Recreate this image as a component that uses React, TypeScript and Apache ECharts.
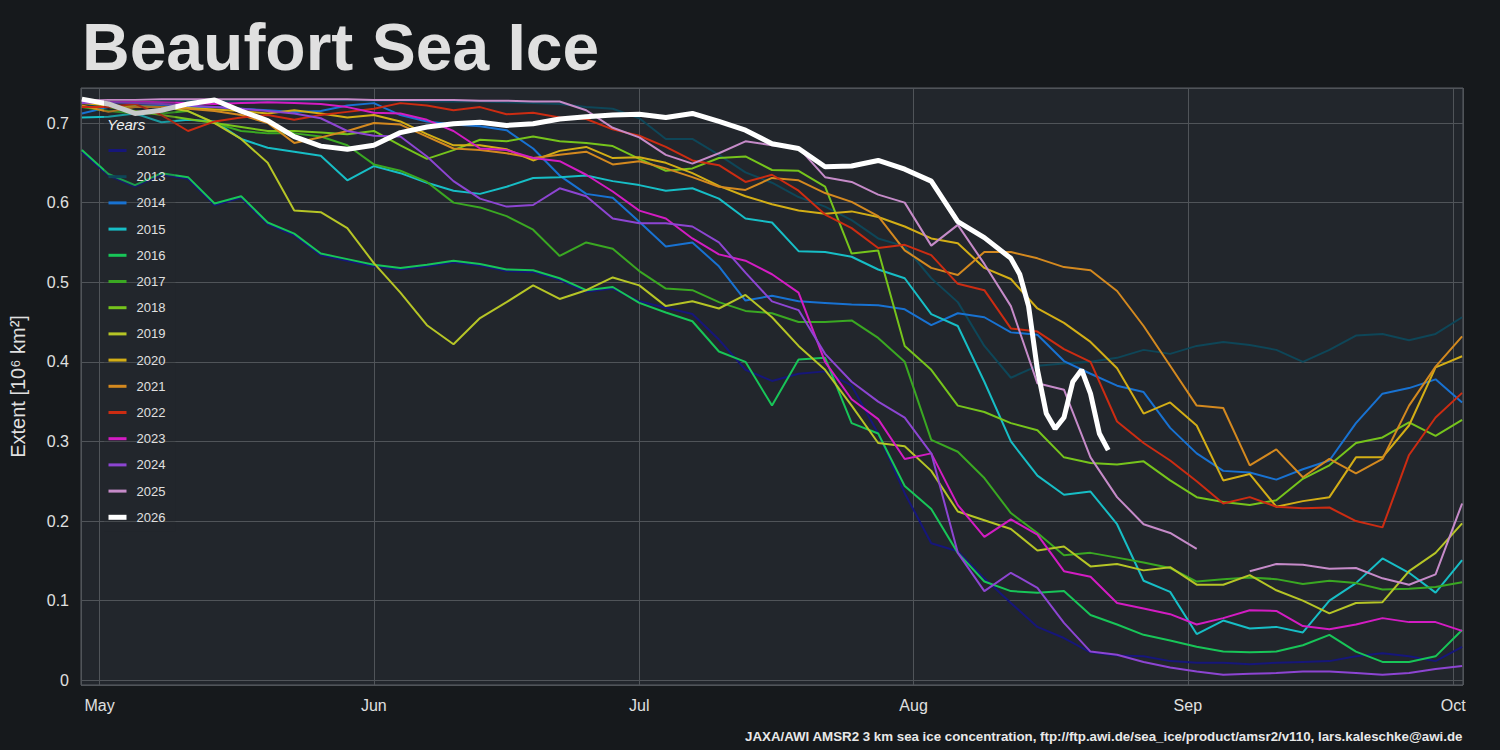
import React, { useEffect, useRef } from "react";
import * as echarts from "echarts";

const MONTHS = ["Jan", "Feb", "Mar", "Apr", "May", "Jun", "Jul", "Aug", "Sep", "Oct", "Nov", "Dec"];

// sample days, counted from 1 May
const DAYS = [
  -2, 1, 4, 7, 10, 13, 16, 19, 22, 25, 28, 31, 34, 37, 40, 43, 46, 49, 52, 55, 58, 61, 64, 67, 70, 73, 76,
  79, 82, 85, 88, 91, 94, 97, 100, 103, 106, 109, 112, 115, 118, 121, 124, 127, 130, 133, 136, 139, 142,
  145, 148, 151, 154
];
// 2026 is read more finely near its end
const DAYS_2026 = [
  -2, 1, 4, 7, 10, 13, 16, 19, 22, 25, 28, 31, 34, 37, 40, 43, 46, 49, 52, 55, 58, 61, 64, 67, 70, 73, 76,
  79, 82, 85, 88, 91, 94, 97, 100, 103, 104, 105, 106, 107, 108, 109, 110, 111, 112, 113, 114
];

const YEARS = ["2012", "2013", "2014", "2015", "2016", "2017", "2018", "2019", "2020", "2021", "2022", "2023", "2024", "2025", "2026"];

const COLORS = [
  "#16167a", "#0e4658", "#1872d2", "#17bec6", "#18c558", "#3aa822", "#76c41c", "#b6c526",
  "#d3ae16", "#d4891f", "#cc2c12", "#d31cc3", "#8d45d2", "#c68bc9", "#ffffff"
];

const Y2012 = [0.664, 0.634, 0.62, 0.635, 0.63, 0.597, 0.606, 0.573, 0.559, 0.534, 0.527, 0.52, 0.516, 0.52, 0.525, 0.521, 0.514, 0.513, 0.503, 0.488, 0.492, 0.476, 0.468, 0.46, 0.428, 0.39, 0.376, 0.385, 0.388, 0.37, 0.31, 0.235, 0.172, 0.162, 0.128, 0.097, 0.067, 0.053, 0.035, 0.031, 0.03, 0.024, 0.022, 0.022, 0.02, 0.022, 0.023, 0.024, 0.03, 0.034, 0.03, 0.024, 0.042];
const Y2013 = [0.72, 0.725, 0.725, 0.728, 0.728, 0.727, 0.727, 0.728, 0.728, 0.728, 0.729, 0.728, 0.728, 0.727, 0.727, 0.727, 0.726, 0.725, 0.724, 0.72, 0.718, 0.706, 0.68, 0.68, 0.66, 0.638, 0.625, 0.607, 0.595, 0.578, 0.555, 0.545, 0.505, 0.475, 0.42, 0.38, 0.395, 0.398, 0.4, 0.405, 0.415, 0.41, 0.42, 0.425, 0.421, 0.415, 0.4, 0.415, 0.433, 0.435, 0.427, 0.435, 0.456];
const Y2014 = [0.712, 0.72, 0.722, 0.722, 0.72, 0.72, 0.718, 0.716, 0.714, 0.715, 0.722, 0.725, 0.71, 0.702, 0.698, 0.696, 0.691, 0.668, 0.634, 0.611, 0.606, 0.576, 0.545, 0.55, 0.52, 0.477, 0.483, 0.476, 0.474, 0.472, 0.471, 0.466, 0.446, 0.461, 0.456, 0.437, 0.434, 0.401, 0.385, 0.37, 0.362, 0.317, 0.285, 0.263, 0.261, 0.252, 0.265, 0.276, 0.323, 0.36, 0.367, 0.378, 0.349];
const Y2015 = [0.707, 0.708, 0.712, 0.701, 0.704, 0.702, 0.68, 0.669, 0.664, 0.659, 0.628, 0.646, 0.637, 0.625, 0.615, 0.611, 0.62, 0.631, 0.632, 0.634, 0.627, 0.622, 0.615, 0.618, 0.605, 0.58, 0.575, 0.539, 0.538, 0.532, 0.516, 0.505, 0.46, 0.445, 0.375, 0.3, 0.257, 0.233, 0.237, 0.196, 0.125, 0.111, 0.058, 0.075, 0.065, 0.067, 0.06, 0.1, 0.122, 0.153, 0.135, 0.11, 0.151];
const Y2016 = [0.666, 0.636, 0.622, 0.637, 0.632, 0.599, 0.608, 0.575, 0.561, 0.536, 0.529, 0.522, 0.518, 0.522, 0.527, 0.523, 0.516, 0.515, 0.505, 0.49, 0.494, 0.474, 0.462, 0.451, 0.413, 0.4, 0.345, 0.403, 0.405, 0.323, 0.31, 0.244, 0.215, 0.16, 0.124, 0.112, 0.11, 0.112, 0.082, 0.07, 0.057, 0.05, 0.042, 0.036, 0.035, 0.036, 0.044, 0.057, 0.036, 0.023, 0.023, 0.03, 0.063];
const Y2017 = [0.72, 0.715, 0.712, 0.712, 0.715, 0.7, 0.69, 0.687, 0.687, 0.683, 0.672, 0.648, 0.64, 0.626, 0.6, 0.594, 0.583, 0.566, 0.533, 0.55, 0.542, 0.514, 0.492, 0.49, 0.475, 0.464, 0.461, 0.45, 0.45, 0.452, 0.43, 0.4, 0.302, 0.287, 0.254, 0.21, 0.185, 0.157, 0.16, 0.154, 0.148, 0.141, 0.124, 0.127, 0.129, 0.127, 0.121, 0.125, 0.122, 0.114, 0.115, 0.117, 0.123];
const Y2018 = [0.72, 0.72, 0.715, 0.71, 0.705, 0.7, 0.695, 0.69, 0.69, 0.688, 0.686, 0.69, 0.672, 0.655, 0.666, 0.679, 0.677, 0.683, 0.677, 0.675, 0.671, 0.655, 0.64, 0.643, 0.656, 0.658, 0.641, 0.64, 0.62, 0.536, 0.54, 0.42, 0.39, 0.345, 0.337, 0.323, 0.314, 0.28, 0.273, 0.271, 0.275, 0.251, 0.23, 0.224, 0.22, 0.226, 0.253, 0.27, 0.298, 0.305, 0.324, 0.307, 0.327];
const Y2019 = [0.72, 0.72, 0.72, 0.72, 0.715, 0.7, 0.68, 0.65, 0.59, 0.588, 0.568, 0.524, 0.487, 0.446, 0.422, 0.455, 0.475, 0.496, 0.479, 0.49, 0.506, 0.496, 0.47, 0.476, 0.467, 0.484, 0.456, 0.42, 0.39, 0.345, 0.298, 0.294, 0.263, 0.212, 0.201, 0.19, 0.163, 0.168, 0.143, 0.146, 0.138, 0.142, 0.12, 0.12, 0.132, 0.113, 0.1, 0.084, 0.097, 0.098, 0.137, 0.16, 0.197];
const Y2020 = [0.725, 0.722, 0.721, 0.72, 0.719, 0.717, 0.715, 0.712, 0.716, 0.712, 0.707, 0.71, 0.702, 0.686, 0.672, 0.672, 0.667, 0.653, 0.665, 0.67, 0.656, 0.657, 0.65, 0.637, 0.621, 0.608, 0.598, 0.59, 0.586, 0.589, 0.582, 0.57, 0.555, 0.549, 0.518, 0.504, 0.467, 0.449, 0.425, 0.392, 0.335, 0.349, 0.32, 0.251, 0.259, 0.218, 0.225, 0.23, 0.28, 0.28, 0.32, 0.393, 0.407];
const Y2021 = [0.722, 0.714, 0.72, 0.72, 0.718, 0.715, 0.71, 0.7, 0.675, 0.682, 0.69, 0.7, 0.698, 0.683, 0.668, 0.666, 0.662, 0.656, 0.66, 0.664, 0.648, 0.652, 0.643, 0.632, 0.62, 0.616, 0.631, 0.628, 0.612, 0.601, 0.583, 0.54, 0.518, 0.509, 0.538, 0.538, 0.53, 0.519, 0.515, 0.489, 0.445, 0.395, 0.345, 0.342, 0.27, 0.29, 0.255, 0.278, 0.26, 0.278, 0.345, 0.394, 0.432];
const Y2022 = [0.72, 0.72, 0.724, 0.71, 0.69, 0.702, 0.707, 0.71, 0.704, 0.71, 0.714, 0.718, 0.725, 0.722, 0.716, 0.72, 0.711, 0.713, 0.707, 0.705, 0.692, 0.684, 0.67, 0.653, 0.647, 0.626, 0.635, 0.615, 0.585, 0.568, 0.543, 0.547, 0.534, 0.498, 0.49, 0.442, 0.438, 0.416, 0.4, 0.325, 0.298, 0.276, 0.25, 0.222, 0.23, 0.218, 0.216, 0.217, 0.2, 0.192, 0.283, 0.33, 0.361];
const Y2023 = [0.728, 0.727, 0.727, 0.726, 0.725, 0.724, 0.725, 0.726, 0.725, 0.724, 0.72, 0.713, 0.712, 0.704, 0.69, 0.668, 0.666, 0.656, 0.652, 0.635, 0.614, 0.59, 0.58, 0.555, 0.535, 0.527, 0.51, 0.487, 0.4, 0.353, 0.328, 0.278, 0.285, 0.22, 0.18, 0.202, 0.183, 0.137, 0.13, 0.097, 0.09, 0.083, 0.07, 0.078, 0.088, 0.087, 0.068, 0.064, 0.07, 0.078, 0.073, 0.073, 0.062];
const Y2024 = [0.725, 0.726, 0.725, 0.724, 0.722, 0.72, 0.718, 0.715, 0.712, 0.706, 0.69, 0.684, 0.683, 0.658, 0.627, 0.605, 0.595, 0.597, 0.618, 0.608, 0.58, 0.574, 0.574, 0.57, 0.55, 0.512, 0.476, 0.465, 0.41, 0.375, 0.35, 0.33, 0.285, 0.16, 0.112, 0.135, 0.116, 0.072, 0.036, 0.032, 0.023, 0.016, 0.011, 0.007, 0.008, 0.009, 0.011, 0.011, 0.009, 0.007, 0.009, 0.014, 0.018];
const Y2025 = [0.728, 0.729, 0.729, 0.73, 0.73, 0.73, 0.73, 0.73, 0.73, 0.73, 0.73, 0.729, 0.729, 0.729, 0.729, 0.728, 0.728, 0.727, 0.727, 0.716, 0.694, 0.682, 0.66, 0.649, 0.662, 0.677, 0.672, 0.669, 0.632, 0.626, 0.61, 0.6, 0.546, 0.572, 0.523, 0.47, 0.373, 0.365, 0.28, 0.23, 0.196, 0.185, 0.165, null, 0.137, 0.146, 0.145, 0.14, 0.141, 0.128, 0.12, 0.133, 0.222];
const Y2026 = [0.73, 0.724, 0.712, 0.716, 0.724, 0.729, 0.715, 0.703, 0.683, 0.671, 0.667, 0.672, 0.688, 0.695, 0.699, 0.701, 0.697, 0.699, 0.705, 0.708, 0.71, 0.711, 0.707, 0.712, 0.702, 0.691, 0.674, 0.668, 0.645, 0.646, 0.653, 0.642, 0.627, 0.576, 0.556, 0.53, 0.51, 0.47, 0.39, 0.335, 0.316, 0.33, 0.375, 0.39, 0.36, 0.31, 0.289];

const SERIES_VALUES = [Y2012, Y2013, Y2014, Y2015, Y2016, Y2017, Y2018, Y2019, Y2020, Y2021, Y2022, Y2023, Y2024, Y2025, Y2026];

const MAY_1 = Date.UTC(2026, 4, 1);
const DAY_MS = 86400000;
const FONT = '"Liberation Sans", Arial, sans-serif';

const App = () => {
  const ref = useRef<HTMLDivElement>(null);

  useEffect(() => {
    document.body.style.margin = "0";
    const chart = echarts.init(ref.current, null, { renderer: "svg" });

    const series = YEARS.map((year, i) => {
      const days = year === "2026" ? DAYS_2026 : DAYS;
      return {
        name: year,
        type: "line",
        data: SERIES_VALUES[i].map((v, j) => [MAY_1 + days[j] * DAY_MS, v == null ? "-" : v]),
        showSymbol: false,
        symbol: "none",
        lineStyle: { width: year === "2026" ? 5 : 2, color: COLORS[i] },
        itemStyle: { color: COLORS[i] },
        emphasis: { disabled: true }
      };
    });

    const option = {
      animation: false,
      useUTC: true,
      backgroundColor: "#16191c",
      textStyle: { fontFamily: FONT },
      title: {
        text: "Beaufort Sea Ice",
        left: 82,
        top: 14,
        padding: 0,
        textStyle: { color: "#e0e0e0", fontSize: 66, fontWeight: "bold", fontFamily: FONT }
      },
      grid: {
        left: 80,
        right: 37,
        top: 88,
        bottom: 65,
        show: true,
        backgroundColor: "#22262c",
        borderColor: "#5a5e64",
        borderWidth: 1
      },
      legend: {
        orient: "vertical",
        left: 104,
        top: 100,
        padding: [44, 10, 8, 2],
        backgroundColor: "rgba(34,38,44,0.25)",
        itemWidth: 18,
        itemHeight: 14,
        itemGap: 13.2,
        selectedMode: false,
        itemStyle: { opacity: 0 },
        textStyle: { color: "#e0e0e0", fontSize: 13, fontFamily: FONT, padding: [0, 0, 0, 5] },
        data: YEARS.map((year) => ({
          name: year,
          lineStyle: { width: year === "2026" ? 5 : 3 }
        }))
      },
      graphic: [
        {
          type: "text",
          left: 107,
          top: 117,
          z: 100,
          style: { text: "Years", fill: "#f0f0f0", font: 'italic 15px "Liberation Sans", Arial, sans-serif' }
        },
        {
          type: "text",
          right: 37,
          top: 730,
          z: 100,
          style: {
            text: "JAXA/AWI AMSR2 3 km sea ice concentration, ftp://ftp.awi.de/sea_ice/product/amsr2/v110, lars.kaleschke@awi.de",
            fill: "#e8e8e8",
            font: 'bold 13.3px "Liberation Sans Narrow", "Liberation Sans", Arial, sans-serif'
          }
        }
      ],
      xAxis: {
        type: "time",
        min: MAY_1 - 2.1 * DAY_MS,
        max: MAY_1 + 154.1 * DAY_MS,
        splitNumber: 5,
        axisLine: { show: false },
        axisTick: { show: false },
        splitLine: { show: true, lineStyle: { color: "#505459", width: 1 } },
        axisLabel: {
          color: "#e0e0e0",
          fontSize: 16,
          margin: 12,
          showMinLabel: false,
          showMaxLabel: false,
          formatter: (val: number) => {
            const d = new Date(val);
            return d.getUTCDate() === 1 ? MONTHS[d.getUTCMonth()] : "";
          }
        }
      },
      yAxis: {
        type: "value",
        min: -0.006,
        max: 0.744,
        splitNumber: 7,
        minInterval: 0.1,
        maxInterval: 0.1,
        name: "Extent [10⁶ km²]",
        nameLocation: "middle",
        nameGap: 53,
        nameTextStyle: { color: "#e0e0e0", fontSize: 20, fontFamily: FONT },
        axisLine: { show: false },
        axisTick: { show: false },
        splitLine: { show: true, lineStyle: { color: "#505459", width: 1 } },
        axisLabel: {
          color: "#e0e0e0",
          fontSize: 16,
          margin: 12,
          showMinLabel: false,
          showMaxLabel: false
        }
      },
      series
    };

    chart.setOption(option);
    return () => {
      chart.dispose();
    };
  }, []);

  return <div ref={ref} style={{ width: 1500, height: 750, position: "fixed", left: 0, top: 0 }}></div>;
};

export default App;
